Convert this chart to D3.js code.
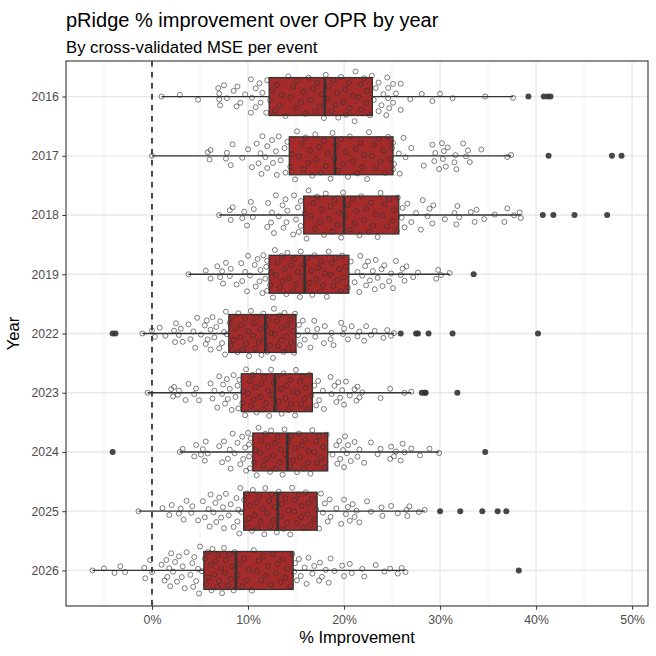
<!DOCTYPE html>
<html>
<head>
<meta charset="utf-8">
<script src="https://cdn.jsdelivr.net/npm/d3@7"></script>
<style>
  body { margin: 0; background: #fff; }
  text { font-family: "Liberation Sans", Arial, Helvetica, sans-serif; }
</style>
</head>
<body>
<div id="chart"></div>
<script>
var years = ["2016", "2017", "2018", "2019", "2022", "2023", "2024", "2025", "2026"];

// box stats (% improvement)
var q1s = [12.2, 14.3, 15.8, 12.2, 8.0, 9.3, 10.5, 9.55, 5.4];
var medians = [18.0, 19.06, 20.0, 15.9, 11.8, 12.8, 14.1, 13.1, 8.75];
var q3s = [22.95, 25.1, 25.7, 20.5, 15.0, 16.7, 18.3, 17.2, 14.7];

// per-event values (non-outliers)
var pts2016 = [1.0, 2.9, 4.8, 6.9, 7.0, 7.0, 7.1, 7.5, 7.8, 8.5, 8.8, 8.9, 9.2, 9.7, 10.3, 10.3, 10.4, 10.8, 10.8, 11.2, 11.3, 11.5, 11.9, 12.0,
  12.3, 12.5, 12.8, 13.0, 13.3, 13.5, 13.9, 14.2, 14.4, 14.7, 15.0, 15.1, 15.5, 15.8, 16.0, 16.3, 16.5, 16.8, 17.0, 17.2, 17.5, 17.7, 17.9,
  18.1, 18.3, 18.4, 18.7, 18.9, 19.1, 19.3, 19.4, 19.7, 19.9, 20.1, 20.2, 20.5, 20.6, 20.9, 21.1, 21.2, 21.5, 21.7, 21.8, 22.1, 22.3, 22.4, 22.7, 22.9,
  23.1, 23.3, 23.6, 23.6, 23.9, 24.1, 24.4, 24.5, 24.6, 24.6, 24.7, 25.1, 25.1, 25.4, 25.9, 25.9, 26.9, 28.1, 29.2, 30.0, 31.3, 34.7, 37.6];
var pts2017 = [0.0, 5.8, 6.0, 6.1, 7.7, 7.8, 8.2, 8.4, 9.4, 10.0, 10.4, 10.9, 11.1, 11.3, 11.4, 11.5, 11.8, 12.0, 12.0, 12.5, 12.6, 12.9, 13.0, 13.2, 13.4, 13.8, 13.9, 14.1,
  14.4, 14.6, 14.9, 15.1, 15.3, 15.6, 15.8, 16.0, 16.3, 16.5, 16.7, 17.0, 17.1, 17.4, 17.6, 17.9, 18.1, 18.3, 18.6, 18.8, 19.0,
  19.2, 19.4, 19.7, 19.9, 20.2, 20.4, 20.6, 20.9, 21.2, 21.4, 21.7, 21.9, 22.1, 22.4, 22.6, 22.9, 23.1, 23.3, 23.6, 23.8, 24.1, 24.3, 24.6, 24.8, 25.0,
  25.1, 25.1, 25.2, 25.7, 25.8, 26.2, 26.4, 27.0, 28.3, 29.2, 29.4, 29.5, 29.9, 30.2, 30.3, 30.4, 30.6, 30.8, 31.5, 31.6, 31.7, 32.4, 32.7, 32.9, 33.1, 34.3, 37.0, 37.4];
var pts2018 = [7.0, 8.1, 8.2, 8.4, 9.4, 9.6, 9.9, 10.3, 10.5, 10.6, 12.0, 12.1, 12.4, 12.5, 12.7, 12.9, 13.2, 13.6, 13.7, 13.9, 14.0, 14.1, 14.7, 14.8, 15.0, 15.2, 15.3, 15.5, 15.5,
  15.9, 16.1, 16.3, 16.6, 16.8, 17.0, 17.2, 17.5, 17.7, 17.9, 18.1, 18.4, 18.6, 18.8, 19.0, 19.3, 19.5, 19.7, 19.9,
  20.1, 20.4, 20.6, 20.9, 21.1, 21.3, 21.6, 21.8, 22.1, 22.3, 22.6, 22.8, 23.0, 23.3, 23.5, 23.8, 24.0, 24.2, 24.5, 24.7, 25.0, 25.2, 25.5, 25.6,
  26.0, 26.1, 26.3, 26.6, 27.0, 27.5, 28.0, 28.2, 28.7, 28.9, 29.2, 29.3, 30.5, 31.5, 31.7, 31.8, 32.0, 33.2, 33.6, 33.8, 34.6, 35.7, 36.7, 37.0, 37.7, 38.3, 38.4];
var pts2019 = [3.8, 5.6, 6.1, 6.8, 7.1, 7.3, 7.4, 7.7, 8.1, 8.2, 8.8, 9.3, 9.4, 9.7, 9.9, 10.0, 10.2, 10.7, 10.8, 11.0, 11.2, 11.3, 11.5, 11.6, 11.8, 11.9, 12.0, 12.0,
  12.3, 12.4, 12.6, 12.8, 12.9, 13.1, 13.3, 13.5, 13.6, 13.8, 14.0, 14.1, 14.3, 14.5, 14.7, 14.8, 15.0, 15.2, 15.4, 15.5, 15.7, 15.8,
  16.0, 16.2, 16.4, 16.6, 16.7, 16.9, 17.1, 17.3, 17.5, 17.6, 17.8, 18.0, 18.2, 18.4, 18.6, 18.7, 18.9, 19.1, 19.3, 19.5, 19.7, 19.8, 20.0, 20.2, 20.4,
  20.7, 21.1, 21.4, 21.6, 21.7, 21.9, 22.2, 22.3, 22.5, 22.7, 23.0, 23.2, 23.3, 23.5, 23.9, 24.0, 24.2, 24.7, 24.9, 25.1, 25.4, 25.9, 26.1, 26.3, 26.5, 27.2, 27.7, 29.6, 29.8, 30.1, 31.0];
var pts2022 = [-1.0, 0.0, 0.3, 0.8, 1.4, 2.3, 2.4, 2.5, 2.8, 3.0, 3.2, 3.8, 4.0, 4.3, 4.5, 4.7, 5.1, 5.5, 5.6, 5.7, 5.8, 6.1, 6.1, 6.3, 6.5, 6.7, 7.0, 7.1, 7.3, 7.5, 7.6, 7.7, 7.8,
  8.1, 8.2, 8.4, 8.5, 8.7, 8.9, 9.0, 9.2, 9.3, 9.5, 9.7, 9.8, 10.0, 10.1, 10.3, 10.5, 10.6, 10.8, 10.9, 11.1, 11.3, 11.4, 11.6, 11.7,
  11.9, 12.0, 12.1, 12.3, 12.4, 12.6, 12.7, 12.8, 13.0, 13.1, 13.3, 13.4, 13.5, 13.7, 13.8, 14.0, 14.1, 14.2, 14.4, 14.5, 14.7, 14.8, 14.9,
  15.2, 15.3, 15.4, 15.7, 15.9, 16.2, 16.5, 16.9, 17.0, 17.2, 17.9, 18.0, 18.6, 18.7, 18.9, 19.7, 19.9, 20.0, 20.4, 20.8, 21.4, 21.6, 22.1, 22.3, 22.8, 23.2, 24.1, 24.5, 24.9, 25.2];
var pts2023 = [-0.45, 2.0, 2.2, 2.3, 2.7, 2.8, 3.5, 3.8, 4.4, 4.6, 4.9, 6.1, 6.3, 6.5, 6.8, 7.0, 7.3, 7.4, 7.6, 7.8, 7.9, 8.1, 8.3, 8.5, 8.7, 8.9, 9.0, 9.1,
  9.4, 9.5, 9.7, 9.8, 10.0, 10.2, 10.3, 10.5, 10.6, 10.8, 10.9, 11.1, 11.3, 11.4, 11.6, 11.7, 11.9, 12.1, 12.2, 12.4, 12.5, 12.7,
  12.9, 13.0, 13.2, 13.4, 13.5, 13.7, 13.9, 14.0, 14.2, 14.4, 14.5, 14.7, 14.9, 15.0, 15.2, 15.4, 15.5, 15.7, 15.9, 16.0, 16.2, 16.4, 16.6,
  16.9, 17.1, 17.3, 17.4, 17.8, 17.9, 18.6, 18.7, 19.0, 19.2, 19.4, 19.6, 19.8, 20.0, 20.2, 20.6, 21.1, 21.3, 21.4, 21.6, 21.9, 23.8, 24.8, 26.3, 27.0];
var pts2024 = [2.9, 3.2, 4.4, 4.6, 5.1, 5.3, 5.5, 5.6, 5.8, 7.0, 7.3, 7.5, 7.9, 8.1, 8.2, 8.4, 8.6, 8.9, 9.2, 9.4, 9.5, 9.7, 9.8, 10.0, 10.1, 10.1, 10.2, 10.3,
  10.6, 10.8, 10.9, 11.1, 11.3, 11.4, 11.6, 11.8, 11.9, 12.1, 12.3, 12.4, 12.6, 12.8, 12.9, 13.1, 13.3, 13.4, 13.6, 13.8, 13.9,
  14.2, 14.4, 14.5, 14.7, 14.9, 15.1, 15.3, 15.4, 15.6, 15.8, 16.0, 16.2, 16.3, 16.5, 16.7, 16.9, 17.1, 17.2, 17.4, 17.6, 17.8, 18.0, 18.2,
  18.8, 19.2, 19.3, 19.5, 19.6, 19.9, 20.0, 20.1, 20.3, 20.4, 20.7, 21.1, 21.4, 21.6, 22.1, 22.8, 23.5, 23.8, 24.8, 24.9, 25.2, 25.4, 25.9, 26.1, 26.3, 27.0, 27.9, 28.9, 29.9];
var pts2025 = [-1.4, 1.1, 1.8, 2.05, 2.8, 3.0, 3.3, 3.6, 4.1, 4.2, 4.8, 5.3, 5.5, 5.9, 6.0, 6.1, 6.4, 6.6, 6.7, 7.0, 7.2, 7.4, 7.5, 7.7, 8.0, 8.2, 8.5, 8.8, 8.9, 9.0, 9.1, 9.2, 9.3,
  9.6, 9.8, 9.9, 10.1, 10.2, 10.4, 10.5, 10.7, 10.9, 11.0, 11.2, 11.3, 11.5, 11.7, 11.8, 12.0, 12.2, 12.3, 12.5, 12.6, 12.8, 13.0,
  13.2, 13.4, 13.5, 13.7, 13.9, 14.1, 14.2, 14.4, 14.6, 14.8, 14.9, 15.1, 15.3, 15.5, 15.6, 15.8, 16.0, 16.2, 16.3, 16.5, 16.7, 16.9, 17.1,
  17.4, 17.6, 17.8, 18.0, 18.3, 18.5, 18.6, 19.2, 19.7, 20.0, 20.2, 20.4, 20.6, 20.9, 21.1, 21.3, 21.6, 22.4, 22.8, 23.9, 24.0, 24.9, 25.6, 26.5, 26.6, 26.8, 27.8, 28.4];
var pts2026 = [-6.2, -5.0, -3.9, -3.3, -2.8, -0.8, -0.7, -0.2, 0.0, 1.0, 1.3, 1.5, 1.6, 1.8, 1.9, 2.0, 2.2, 2.4, 2.6, 2.8, 3.1, 3.2, 3.4, 3.6, 4.0, 4.2, 4.3, 4.4, 4.6, 4.8, 4.9, 5.0, 5.2,
  5.5, 5.6, 5.8, 5.9, 6.1, 6.2, 6.3, 6.5, 6.6, 6.8, 6.9, 7.0, 7.2, 7.3, 7.5, 7.6, 7.7, 7.9, 8.0, 8.2, 8.3, 8.5, 8.6,
  8.9, 9.1, 9.4, 9.6, 9.9, 10.1, 10.4, 10.6, 10.9, 11.1, 11.4, 11.6, 11.9, 12.1, 12.4, 12.6, 12.9, 13.1, 13.4, 13.6, 13.9, 14.1, 14.4, 14.6,
  14.8, 14.9, 15.1, 15.3, 15.5, 15.9, 16.1, 16.3, 16.7, 16.9, 17.4, 17.5, 17.7, 18.1, 18.4, 18.6, 19.0, 19.8, 20.0, 20.6, 20.8, 21.9, 22.1, 23.3, 24.2, 24.8, 25.6, 26.0, 26.4];

// outliers
var out2016 = [39.2, 40.8, 41.2, 41.5];
var out2017 = [41.3, 47.9, 48.9];
var out2018 = [40.7, 41.8, 44.0, 47.4];
var out2019 = [33.5];
var out2022 = [-4.1, -3.8, 25.9, 27.5, 27.7, 28.8, 31.3, 40.2];
var out2023 = [28.1, 28.4, 28.5, 31.8];
var out2024 = [-4.1, 34.7];
var out2025 = [30.0, 32.1, 34.4, 36.0, 36.9];
var out2026 = [38.2];

var xTicks = [0, 10, 20, 30, 40, 50];
var xMinor = [-5, 5, 15, 25, 35, 45];

var points = [pts2016, pts2017, pts2018, pts2019, pts2022, pts2023, pts2024, pts2025, pts2026];
var outliers = [out2016, out2017, out2018, out2019, out2022, out2023, out2024, out2025, out2026];

var rows = years.map(function (yr, i) {
  return {
    year: yr, q1: q1s[i], med: medians[i], q3: q3s[i],
    lo: d3.min(points[i]), hi: d3.max(points[i]),
    pts: points[i], out: outliers[i]
  };
});

var W = 656, H = 656;
var panel = { left: 66, right: 648, top: 61, bottom: 606 };

var svg = d3.select("#chart").append("svg").attr("width", W).attr("height", H);

// x domain = data range + 5% expansion (ggplot style)
var allVals = d3.merge(points.concat(outliers));
var ext = d3.extent(allVals);
var pad = (ext[1] - ext[0]) * 0.05;
var x = d3.scaleLinear().domain([ext[0] - pad, ext[1] + pad]).range([panel.left, panel.right]);
var y = d3.scalePoint().domain(years).range([panel.top, panel.bottom]).padding(0.6);
var step = y.step();
var boxH = step * 0.64;

// grid
var grid = svg.append("g");
grid.selectAll(".minor").data(xMinor).join("line")
  .attr("x1", d => x(d)).attr("x2", d => x(d))
  .attr("y1", panel.top).attr("y2", panel.bottom)
  .attr("stroke", "#ebebeb").attr("stroke-width", 0.7);
grid.selectAll(".major").data(xTicks).join("line")
  .attr("x1", d => x(d)).attr("x2", d => x(d))
  .attr("y1", panel.top).attr("y2", panel.bottom)
  .attr("stroke", "#e8e8e8").attr("stroke-width", 1.3);
grid.selectAll(".ymajor").data(years).join("line")
  .attr("x1", panel.left).attr("x2", panel.right)
  .attr("y1", d => y(d)).attr("y2", d => y(d))
  .attr("stroke", "#e8e8e8").attr("stroke-width", 1.3);

// zero line
svg.append("line")
  .attr("x1", x(0)).attr("x2", x(0))
  .attr("y1", panel.top).attr("y2", panel.bottom)
  .attr("stroke", "#000").attr("stroke-width", 1.4)
  .attr("stroke-dasharray", "5.5,5.5");

// boxes
var box = svg.append("g").selectAll("g").data(rows).join("g");
box.append("line")
  .attr("x1", d => x(d.lo)).attr("x2", d => x(d.q1))
  .attr("y1", d => y(d.year)).attr("y2", d => y(d.year))
  .attr("stroke", "#333").attr("stroke-width", 1.3);
box.append("line")
  .attr("x1", d => x(d.q3)).attr("x2", d => x(d.hi))
  .attr("y1", d => y(d.year)).attr("y2", d => y(d.year))
  .attr("stroke", "#333").attr("stroke-width", 1.3);
box.append("rect")
  .attr("x", d => x(d.q1)).attr("width", d => x(d.q3) - x(d.q1))
  .attr("y", d => y(d.year) - boxH / 2).attr("height", boxH)
  .attr("fill", "#a52a2a").attr("stroke", "#333").attr("stroke-width", 1.3);
box.append("line")
  .attr("x1", d => x(d.med)).attr("x2", d => x(d.med))
  .attr("y1", d => y(d.year) - boxH / 2).attr("y2", d => y(d.year) + boxH / 2)
  .attr("stroke", "#333").attr("stroke-width", 2.6);

// outliers
box.selectAll(".out").data(d => d.out.map(v => ({ v: v, year: d.year }))).join("circle")
  .attr("cx", d => x(d.v)).attr("cy", d => y(d.year)).attr("r", 3)
  .attr("fill", "#333").attr("fill-opacity", 0.9);

// quasirandom offsets (van der Corput by rank, scaled by kernel density)
function vdc(n) {
  var v = 0, denom = 1;
  while (n > 0) { denom *= 2; v += (n % 2) / denom; n = Math.floor(n / 2); }
  return v;
}
function offsets(vals) {
  var n = vals.length;
  var sd = d3.deviation(vals);
  var iqr = d3.quantile(vals, 0.75) - d3.quantile(vals, 0.25);
  var bw = 0.9 * Math.min(sd, iqr / 1.34) * Math.pow(n, -0.2);
  var dens = vals.map(function (v) {
    return d3.sum(vals, function (u) { var z = (v - u) / bw; return Math.exp(-0.5 * z * z); });
  });
  var maxD = d3.max(dens);
  var order = d3.range(n).sort(function (a, b) { return vals[a] - vals[b]; });
  var off = new Array(n);
  order.forEach(function (idx, rank) {
    off[idx] = (vdc(rank + 1) * 2 - 1) * (dens[idx] / maxD);
  });
  return off;
}

var maxW = step * 0.43;
rows.forEach(function (r) {
  var off = offsets(r.pts);
  svg.append("g").selectAll("circle").data(r.pts).join("circle")
    .attr("cx", d => x(d))
    .attr("cy", (d, i) => y(r.year) + off[i] * maxW)
    .attr("r", 2.5)
    .attr("fill", "none")
    .attr("stroke", "#333").attr("stroke-opacity", 0.7).attr("stroke-width", 0.9);
});

// panel border
svg.append("rect")
  .attr("x", panel.left).attr("y", panel.top)
  .attr("width", panel.right - panel.left).attr("height", panel.bottom - panel.top)
  .attr("fill", "none").attr("stroke", "#333").attr("stroke-width", 1.1);

// axes
var xAxis = svg.append("g")
  .attr("transform", "translate(0," + panel.bottom + ")")
  .call(d3.axisBottom(x).tickValues(xTicks).tickSize(3.7).tickPadding(5.5)
    .tickFormat(d => d + "%"));
xAxis.select(".domain").remove();
xAxis.selectAll("line").attr("stroke", "#333");
xAxis.selectAll("text").attr("fill", "#4d4d4d").style("font-size", "12.3px")
  .style("font-family", "'Liberation Sans', Arial, sans-serif");

var yAxis = svg.append("g")
  .attr("transform", "translate(" + panel.left + ",0)")
  .call(d3.axisLeft(y).tickSize(3.7).tickPadding(3.5));
yAxis.select(".domain").remove();
yAxis.selectAll("line").attr("stroke", "#333");
yAxis.selectAll("text").attr("fill", "#4d4d4d").style("font-size", "12.3px")
  .style("font-family", "'Liberation Sans', Arial, sans-serif");

// titles
svg.append("text").attr("x", panel.left).attr("y", 27)
  .text("pRidge % improvement over OPR by year")
  .style("font-size", "20px").attr("fill", "#000");
svg.append("text").attr("x", panel.left).attr("y", 52.5)
  .text("By cross-validated MSE per event")
  .style("font-size", "16.7px").attr("fill", "#000");
svg.append("text").attr("x", (panel.left + panel.right) / 2).attr("y", 643)
  .attr("text-anchor", "middle")
  .text("% Improvement")
  .style("font-size", "16.5px").attr("fill", "#000");
svg.append("text")
  .attr("transform", "translate(19," + (panel.top + panel.bottom) / 2 + ") rotate(-90)")
  .attr("text-anchor", "middle")
  .text("Year")
  .style("font-size", "16.5px").attr("fill", "#000");
</script>
</body>
</html>
